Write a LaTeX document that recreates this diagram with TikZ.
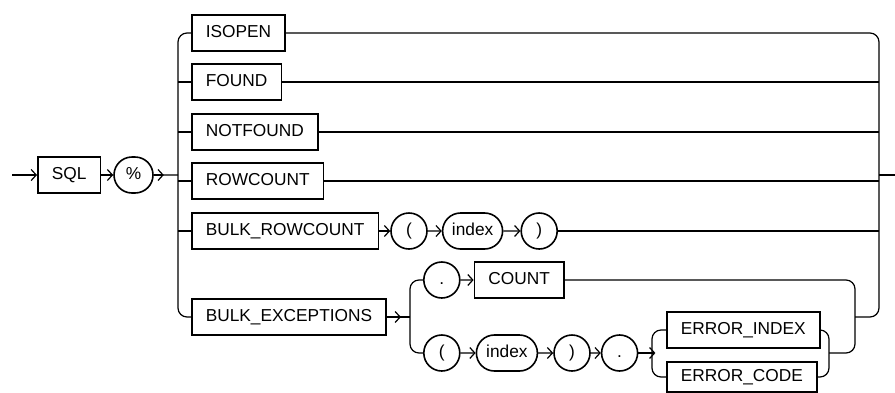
\documentclass[tikz,border=0pt]{standalone}
\usepackage{fontspec}
\setmainfont{Liberation Sans}
\usetikzlibrary{arrows.meta,positioning,shapes.misc}

\begin{document}
\begin{tikzpicture}[
  x=1pt, y=-1pt,
  font=\fontsize{17.3}{20}\selectfont,
  >={Straight Barb[length=5pt,width=11pt]},
  line width=1.2pt,
  nonterm/.style={draw,line width=1.6pt,minimum height=36pt,
                  inner xsep=14pt,inner ysep=0pt,text height=12.5pt,text depth=3.5pt},
  term/.style={draw,line width=1.6pt,rounded rectangle,minimum height=36pt,
               minimum width=33pt,inner xsep=3pt,inner ysep=0pt,
               text height=12.5pt,text depth=3.5pt},
  railbend/.style={rounded corners=9pt}
]
\useasboundingbox (0,0) rectangle (895,392);
\coordinate (start) at (12,175);
\coordinate (lsplit) at (178,175);
\coordinate (rjoin) at (879,175);
\coordinate (finish) at (895,175);

\node[nonterm,anchor=west] (sql) at (37,175) {SQL};
\node[term,minimum width=45pt,right=12pt of sql] (pct) {\%};

% the alternatives after %
\node[nonterm,anchor=west] (isopen) at (191,33) {ISOPEN};
\node[nonterm,anchor=west] (found) at (191,82) {FOUND};
\node[nonterm,anchor=west] (notfound) at (191,132) {NOTFOUND};
\node[nonterm,anchor=west] (rowcount) at (191,181) {ROWCOUNT};
\node[nonterm,anchor=west] (bulkrc) at (191,231) {BULK\_ROWCOUNT};
\node[term,right=11pt of bulkrc] (lparena) {(};
\node[term,minimum width=66pt,right=14pt of lparena] (indexa) {index};
\node[term,right=17pt of indexa] (rparena) {)};
\node[nonterm,anchor=west] (bulkexc) at (191,317) {BULK\_EXCEPTIONS};

% bulk exceptions
\coordinate (bexin) at (410,317);
\coordinate (bexout) at (855,317);
\node[term,anchor=west] (dota) at (423,280) {.};
\node[nonterm,right=13pt of dota] (count) {COUNT};
\node[term,anchor=west] (lparenb) at (423,353) {(};
\node[term,minimum width=67pt,right=15pt of lparenb] (indexb) {index};
\node[term,right=15pt of indexb] (rparenb) {)};
\node[term,right=10pt of rparenb] (dotb) {.};
\coordinate (errin) at (652,353);
\coordinate (errout) at (829,353);
\node[nonterm,anchor=west] (errindex) at (666,330) {ERROR\_INDEX};
\node[nonterm,anchor=west,minimum height=30pt] (errcode) at (666,377) {ERROR\_CODE};

\draw[->] (start) -- (sql);
\draw[->] (sql) -- (pct);
\draw (pct) -- (lsplit);
\draw[->] (pct.east) -- ++(10,0);
\draw[railbend] (isopen.west) -| (lsplit) |- (bulkexc.west);
\foreach \n in {found,notfound,rowcount,bulkrc}
  \draw (\n.west) -- (\n.west -| lsplit);
\draw[railbend] (isopen.east) -| (rjoin) |- (bexout);
\foreach \n in {found,notfound,rowcount,rparena}
  \draw (\n.east) -- (\n.east -| rjoin);
\draw (rjoin) -- (finish);

\draw[->] (bulkrc) -- (lparena);
\draw[->] (lparena) -- (indexa);
\draw[->] (indexa) -- (rparena);

\draw (bulkexc) -- (bexin);
\draw[->] (bulkexc.east) -- ++(14,0);
\draw[railbend] (dota.west) -| (bexin) |- (lparenb.west);
\draw[->] (dota) -- (count);
\draw[->] (lparenb) -- (indexb);
\draw[->] (indexb) -- (rparenb);
\draw[->] (rparenb) -- (dotb);
\draw (dotb) -- (errin);
\draw[->] (dotb.east) -- ++(17,0);
\draw[railbend] (errindex.west) -| (errin) |- (errcode.west);
\draw[railbend] (errindex.east) -| (errout) |- (errcode.east);
\draw[railbend] (count.east) -| (bexout) |- (errout);
\end{tikzpicture}
\end{document}
